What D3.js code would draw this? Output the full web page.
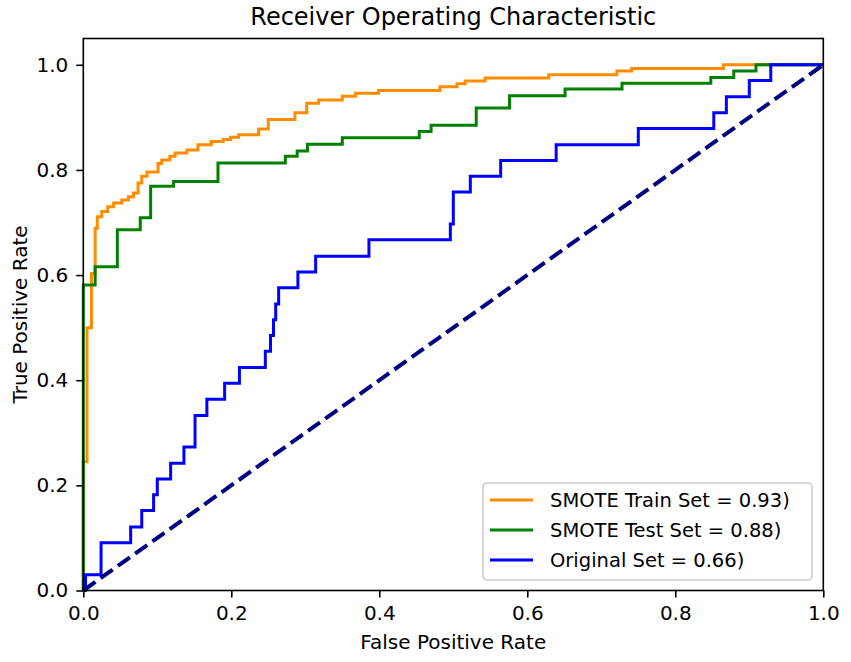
<!DOCTYPE html>
<html>
<head>
<meta charset="utf-8">
<script src="https://cdn.jsdelivr.net/npm/d3@7"></script>
<style>
  body { margin: 0; background: #fff; }
  svg { display: block; font-family: "DejaVu Sans", sans-serif; }
</style>
</head>
<body>
<svg id="chart" width="851" height="662"></svg>
<script>
// ROC staircase corners: [fpr, tpr] where the vertical jump happens (drawn with step-after)
const trainRoc = [
  [0, 0], [0, 0.245], [0.005, 0.50], [0.011, 0.603], [0.016, 0.689], [0.019, 0.711],
  [0.025, 0.721], [0.033, 0.730], [0.041, 0.737], [0.052, 0.743], [0.061, 0.749],
  [0.068, 0.756], [0.074, 0.775], [0.079, 0.788], [0.086, 0.796], [0.101, 0.812],
  [0.106, 0.819], [0.117, 0.826], [0.124, 0.832], [0.140, 0.838], [0.155, 0.848],
  [0.173, 0.854], [0.189, 0.858], [0.199, 0.862], [0.210, 0.867], [0.237, 0.878],
  [0.250, 0.896], [0.286, 0.909], [0.302, 0.927], [0.318, 0.933], [0.350, 0.940],
  [0.368, 0.946], [0.399, 0.951], [0.482, 0.958], [0.505, 0.964], [0.516, 0.969],
  [0.543, 0.975], [0.629, 0.981], [0.721, 0.988], [0.741, 0.993], [0.865, 1.0], [1.0, 1.0]
];
const testRoc = [
  [0, 0], [0, 0.581], [0.016, 0.616], [0.046, 0.686], [0.077, 0.709], [0.091, 0.769],
  [0.122, 0.778], [0.182, 0.813], [0.273, 0.826], [0.289, 0.836], [0.303, 0.849],
  [0.350, 0.861], [0.454, 0.873], [0.470, 0.885], [0.531, 0.918], [0.576, 0.941],
  [0.651, 0.954], [0.728, 0.965], [0.848, 0.976], [0.879, 0.988], [0.909, 1.0], [1.0, 1.0]
];
const originalRoc = [
  [0, 0], [0.003, 0.030], [0.024, 0.091], [0.064, 0.121], [0.079, 0.152], [0.095, 0.182],
  [0.100, 0.212], [0.118, 0.242], [0.136, 0.273], [0.151, 0.333], [0.167, 0.364],
  [0.191, 0.394], [0.211, 0.424], [0.246, 0.455], [0.253, 0.485], [0.257, 0.515],
  [0.260, 0.545], [0.264, 0.576], [0.290, 0.606], [0.314, 0.636], [0.386, 0.667],
  [0.496, 0.697], [0.500, 0.758], [0.523, 0.788], [0.564, 0.818], [0.639, 0.848],
  [0.750, 0.879], [0.852, 0.909], [0.869, 0.939], [0.900, 0.970], [0.929, 1.0], [1.0, 1.0]
];
const chanceLine = [[0, 0], [1, 1]];

const seriesNames = ["SMOTE Train Set = 0.93)", "SMOTE Test Set = 0.88)", "Original Set = 0.66)"];
const seriesColors = ["#ff8c00", "#008000", "#0000ff"];
const xTicks = [0, 0.2, 0.4, 0.6, 0.8, 1.0];
const yTicks = [0, 0.2, 0.4, 0.6, 0.8, 1.0];

const svg = d3.select("#chart");
const plotLeft = 83.3, plotRight = 823.3, plotTop = 38.5, plotBottom = 590.5;

const x = d3.scaleLinear().domain([0, 1]).range([plotLeft, plotRight]);
const y = d3.scaleLinear().domain([0, 1.05]).range([plotBottom, plotTop]);

// curves
const step = d3.line().x(d => x(d[0])).y(d => y(d[1])).curve(d3.curveStepAfter);
const curves = [trainRoc, testRoc, originalRoc];
curves.forEach((data, i) => {
  svg.append("path")
    .attr("d", step(data))
    .attr("fill", "none")
    .attr("stroke", seriesColors[i])
    .attr("stroke-width", 3)
    .attr("stroke-linejoin", "miter");
});

svg.append("path")
  .attr("d", d3.line().x(d => x(d[0])).y(d => y(d[1]))(chanceLine))
  .attr("fill", "none")
  .attr("stroke", "#000080")
  .attr("stroke-width", 4)
  .attr("stroke-dasharray", "14.8,6.4");

// axes
const fmt = d3.format(".1f");
const xAxis = svg.append("g")
  .attr("transform", `translate(0,${plotBottom})`)
  .call(d3.axisBottom(x).tickValues(xTicks).tickFormat(fmt).tickSize(7).tickPadding(8).tickSizeOuter(0));
const yAxis = svg.append("g")
  .attr("transform", `translate(${plotLeft},0)`)
  .call(d3.axisLeft(y).tickValues(yTicks).tickFormat(fmt).tickSize(7).tickPadding(8).tickSizeOuter(0));

[xAxis, yAxis].forEach(a => {
  a.select(".domain").remove();
  a.selectAll(".tick line").attr("stroke", "#000").attr("stroke-width", 1.6);
  a.selectAll(".tick text")
    .attr("fill", "#000")
    .style("font-size", "20px")
    .style("font-family", "DejaVu Sans, sans-serif");
});

// frame
svg.append("rect")
  .attr("x", plotLeft).attr("y", plotTop)
  .attr("width", plotRight - plotLeft).attr("height", plotBottom - plotTop)
  .attr("fill", "none").attr("stroke", "#000").attr("stroke-width", 1.6);

// labels
svg.append("text")
  .attr("x", (plotLeft + plotRight) / 2).attr("y", 25)
  .attr("text-anchor", "middle")
  .style("font-size", "24px")
  .text("Receiver Operating Characteristic");

svg.append("text")
  .attr("x", (plotLeft + plotRight) / 2).attr("y", 649)
  .attr("text-anchor", "middle")
  .style("font-size", "20px")
  .text("False Positive Rate");

svg.append("text")
  .attr("transform", `translate(27,${(plotTop + plotBottom) / 2}) rotate(-90)`)
  .attr("text-anchor", "middle")
  .style("font-size", "20px")
  .text("True Positive Rate");

// legend
const legend = svg.append("g").attr("transform", "translate(483,483)");
legend.append("rect")
  .attr("width", 329).attr("height", 97)
  .attr("rx", 4)
  .attr("fill", "#fff").attr("fill-opacity", 0.8)
  .attr("stroke", "#cccccc").attr("stroke-width", 1.6);

seriesNames.forEach((name, i) => {
  const cy = 17 + i * 30;
  legend.append("line")
    .attr("x1", 7).attr("x2", 50)
    .attr("y1", cy).attr("y2", cy)
    .attr("stroke", seriesColors[i]).attr("stroke-width", 3);
  legend.append("text")
    .attr("x", 67).attr("y", cy + 7)
    .style("font-size", "19.5px")
    .text(name);
});
</script>
</body>
</html>
